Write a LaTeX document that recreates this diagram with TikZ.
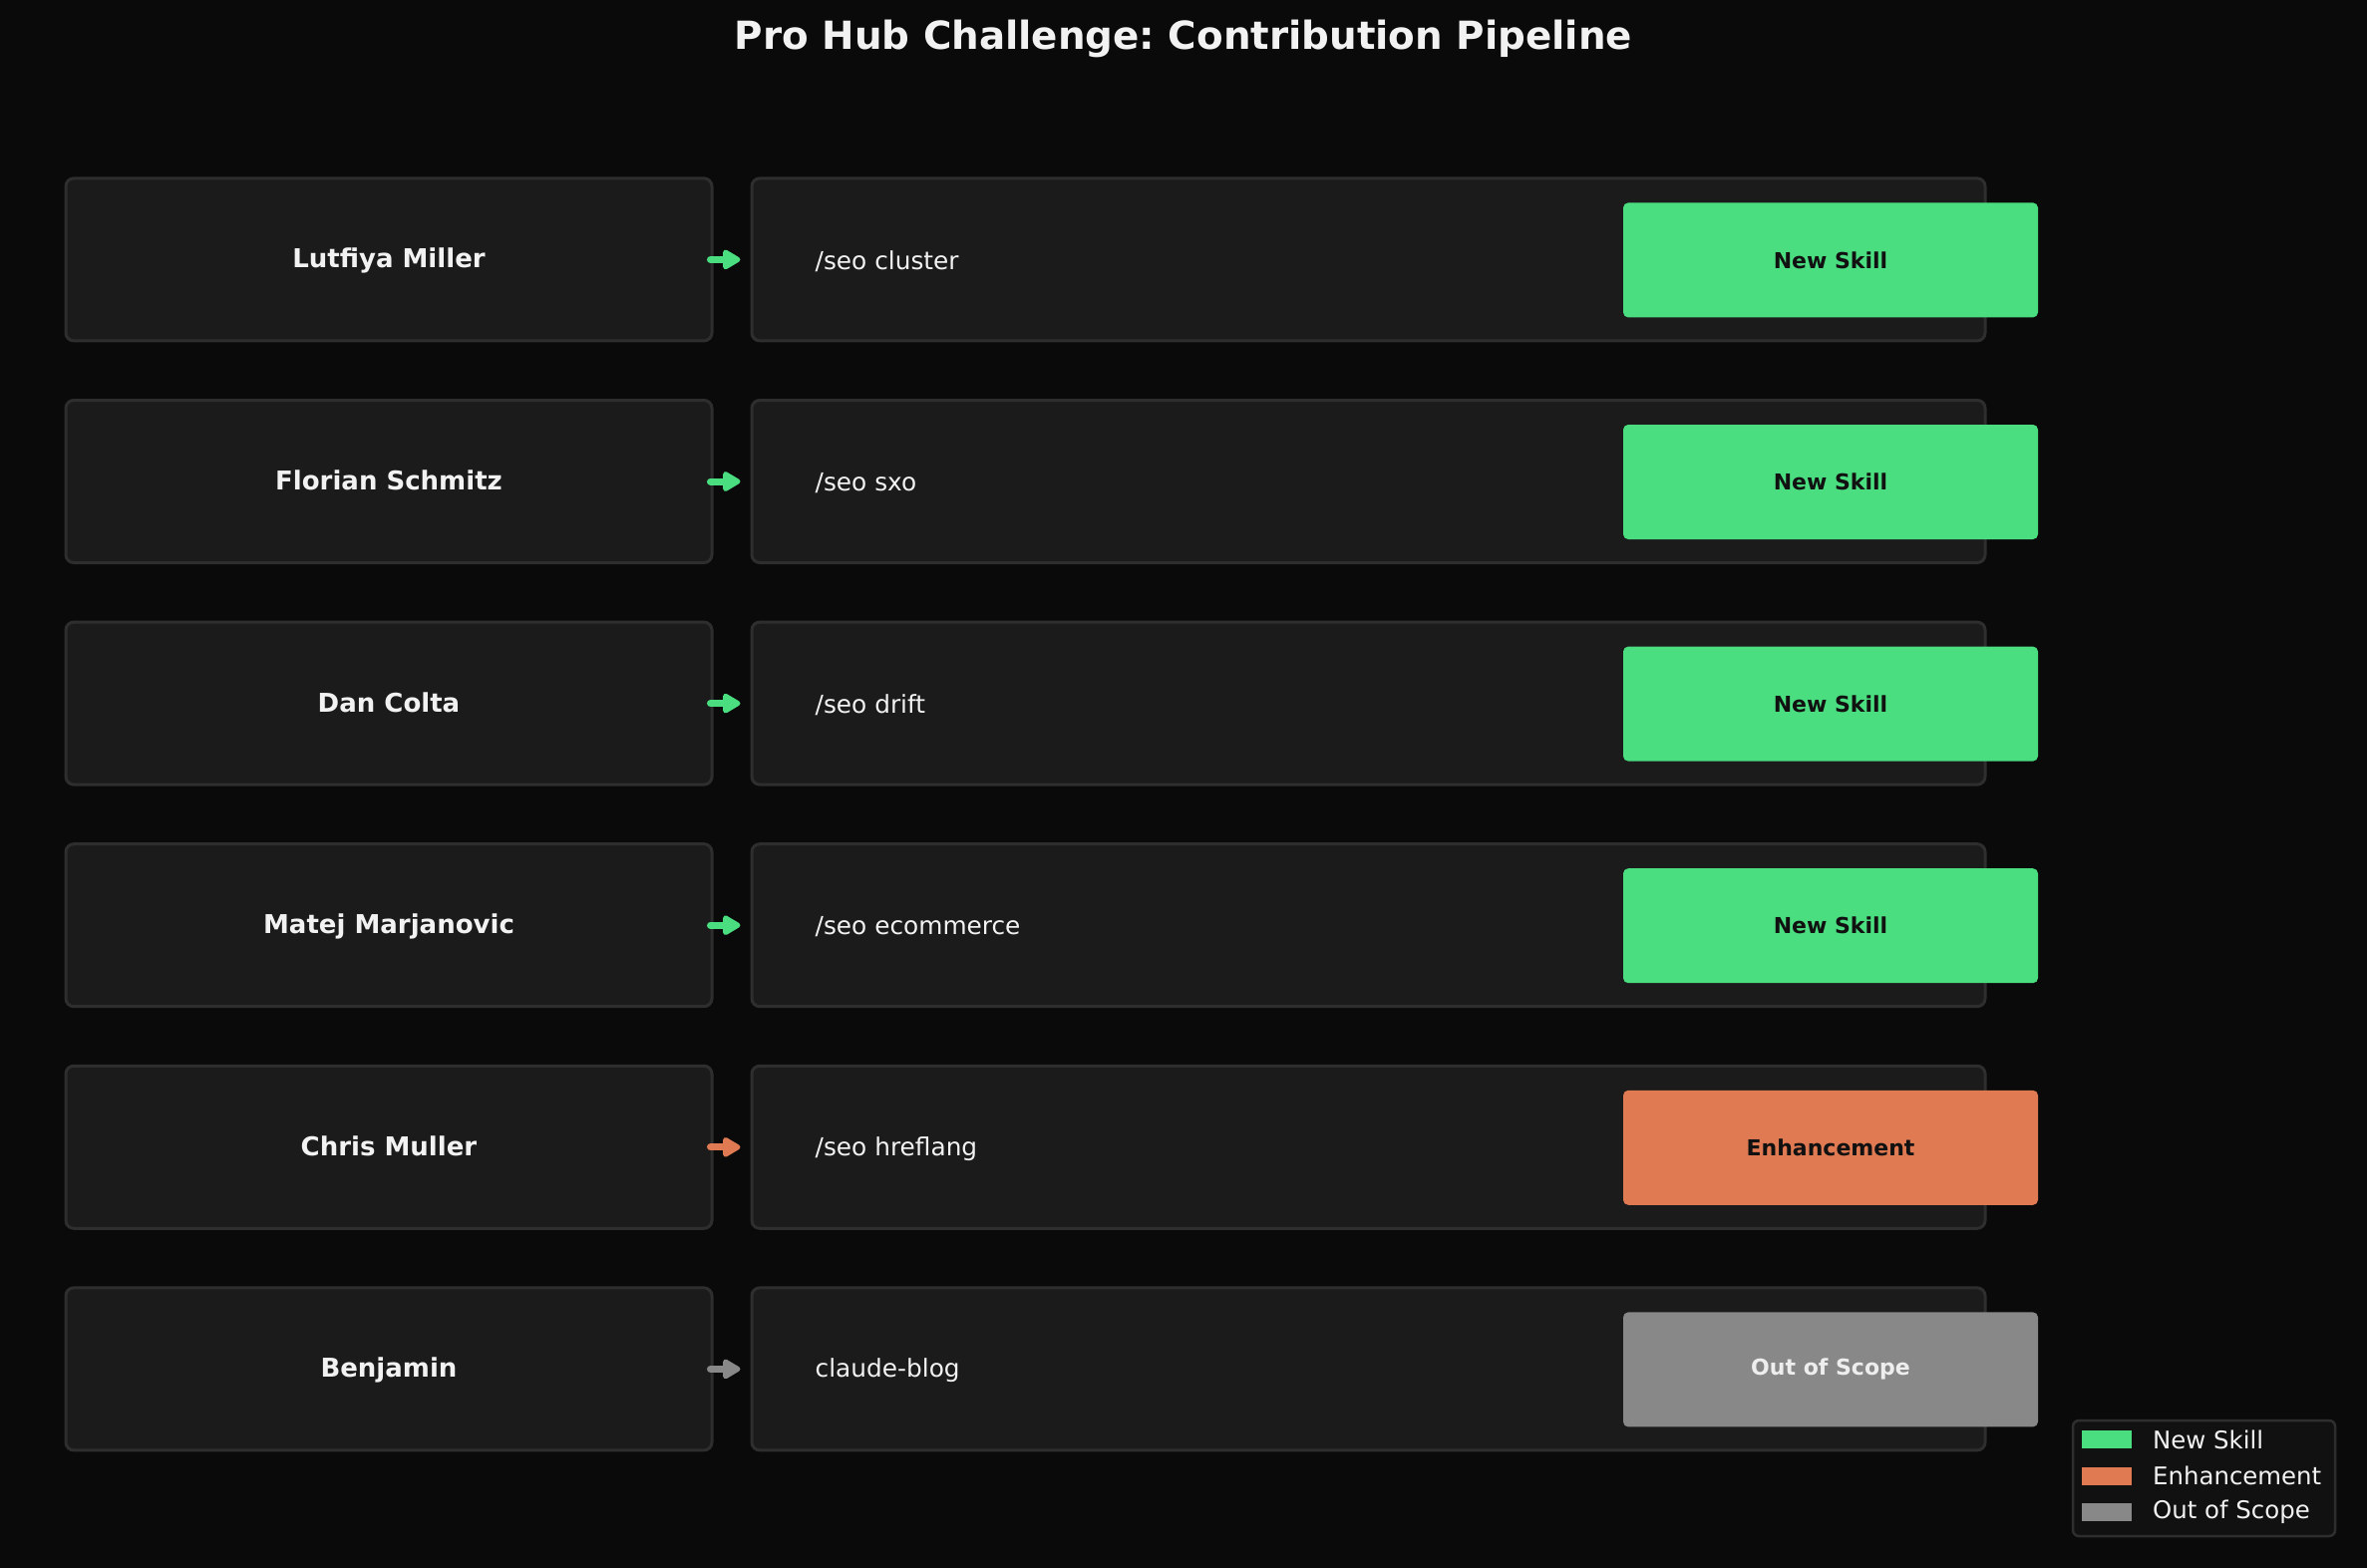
\documentclass[tikz,border=0pt]{standalone}
\usepackage{fontspec}
\setmainfont{DejaVu Sans}
\usetikzlibrary{arrows.meta}
\definecolor{bg}{HTML}{0A0A0A}
\definecolor{boxfill}{HTML}{1B1B1B}
\definecolor{boxline}{HTML}{2E2E2E}
\definecolor{legfill}{HTML}{111111}
\definecolor{newc}{HTML}{4ADE80}
\definecolor{enhc}{HTML}{E07A52}
\definecolor{oosc}{HTML}{888888}
\definecolor{txt}{HTML}{F2F2F2}
\definecolor{badgetxt}{HTML}{111111}
\definecolor{badgelight}{HTML}{EEEEEE}
\frenchspacing
\newcommand\pipelinerow[7]{%
  \node[namebox] (n#1) at (390,#2) {#3};
  \node[cmdbox] (c#1) at (1372.5,#2) {};
  \node[cmdtext] (t#1) at ([xshift=65pt,yshift=-1.5pt]c#1.west) {#4};
  \node[badge=#5, text=#7] (b#1) at (1836,#2+0.5) {#6};
  \draw[flow=#5] ([xshift=-3pt]n#1.east) -- ([xshift=-10pt]c#1.west);
}
\begin{document}
\begin{tikzpicture}[x=1pt,y=-1pt,
 namebox/.style={draw=boxline, line width=3pt, fill=boxfill, rounded corners=8pt, minimum width=648pt, minimum height=163pt, inner sep=0pt, text=txt, text height=21pt, text depth=4pt, font=\fontsize{26}{31}\selectfont\bfseries},
 cmdbox/.style={draw=boxline, line width=3pt, fill=boxfill, rounded corners=8pt, minimum width=1237pt, minimum height=163pt, inner sep=0pt},
 cmdtext/.style={anchor=west, text=txt, font=\fontsize{24.8}{30}\selectfont, inner sep=0pt},
 badge/.style={fill=#1, rounded corners=5pt, minimum width=416pt, minimum height=115pt, inner sep=0pt, font=\fontsize{22}{26}\selectfont\bfseries},
 flow/.style={draw=#1, line width=7pt, line cap=round, -{Triangle[length=20pt,width=22pt,round]}},
 legtext/.style={anchor=west, text=txt, font=\fontsize{24.4}{29}\selectfont, inner sep=0pt},
 legpatch/.style={fill=#1, minimum width=50pt, minimum height=18pt, inner sep=0pt},
]
\fill[bg] (0,0) rectangle (2374,1573);
\useasboundingbox (0,0) rectangle (2374,1573);

\node[text=txt, font=\fontsize{38.8}{46}\selectfont\bfseries] (title) at (1187,39) {Pro Hub Challenge: Contribution Pipeline};

\pipelinerow{1}{260.4}{Lutfiya Miller}{/seo cluster}{newc}{New Skill}{badgetxt}
\pipelinerow{2}{483}{Florian Schmitz}{/seo sxo}{newc}{New Skill}{badgetxt}
\pipelinerow{3}{705.6}{Dan Colta}{/seo drift}{newc}{New Skill}{badgetxt}
\pipelinerow{4}{928.2}{Matej Marjanovic}{/seo ecommerce}{newc}{New Skill}{badgetxt}
\pipelinerow{5}{1150.8}{Chris Muller}{/seo hreflang}{enhc}{Enhancement}{badgetxt}
\pipelinerow{6}{1373.4}{Benjamin}{claude-blog}{oosc}{Out of Scope}{badgelight}

\node[draw=boxline, fill=legfill, rounded corners=6pt, line width=2.5pt, minimum width=263pt, minimum height=116pt, inner sep=0pt] (leg) at (2210.5,1483) {};
\node[legpatch=newc] (lp1) at (2113,1444) {};
\node[legpatch=enhc] (lp2) at (2113,1480.5) {};
\node[legpatch=oosc] (lp3) at (2113,1517) {};
\node[legtext] (lt1) at (2159,1444) {New Skill};
\node[legtext] (lt2) at (2159,1480.5) {Enhancement};
\node[legtext] (lt3) at (2159,1517) {Out of Scope};
\end{tikzpicture}
\end{document}
